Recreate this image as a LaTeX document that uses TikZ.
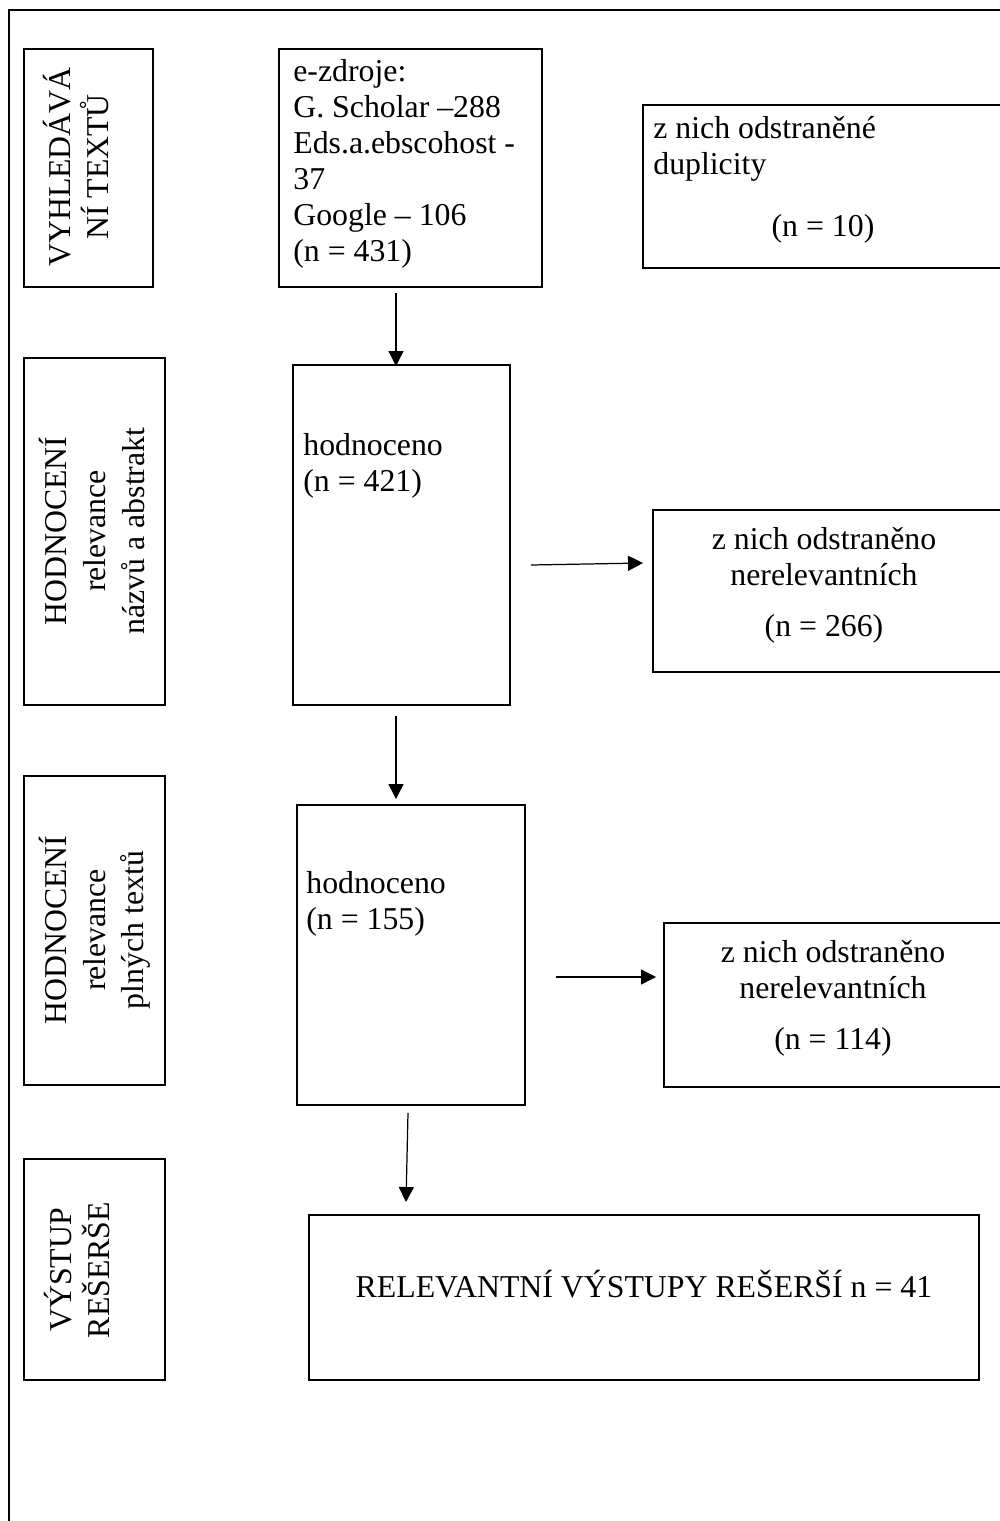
\documentclass[tikz,border=0pt]{standalone}
\usepackage{fontspec}
\setmainfont{Liberation Serif}
\usepackage{tikz}
\usetikzlibrary{arrows.meta,fit,calc}

\begin{document}
\begin{tikzpicture}[x=0.02cm, y=-0.02cm,
		every node/.style={font=\fontsize{18.1pt}{20.5pt}\selectfont, inner sep=0pt},
		box/.style={draw, line width=1.1pt},
		stagelabel/.style={rotate=90, align=center, font=\fontsize{18.1pt}{22pt}\selectfont},
		arr/.style={line width=0.7pt, -{Triangle[length=0.3cm, width=0.3cm]}},
	]
		\path[use as bounding box, clip] (0,0) rectangle (1000,1521);
		\draw[line width=1.1pt] (9,10) rectangle (1010,1530);

		% stages on the left
		\node[box, fit={(24,49) (153,287)}] (stage1) {};
		\node[box, fit={(24,358) (165,705)}] (stage2) {};
		\node[box, fit={(24,776) (165,1085)}] (stage3) {};
		\node[box, fit={(24,1159) (165,1380)}] (stage4) {};
		\node[stagelabel] (lbl1) at (76,167) {VYHLEDÁVÁ\\NÍ TEXTŮ};
		\node[stagelabel] (lbl2) at (92,531) {HODNOCENÍ\\relevance\\názvů a abstrakt};
		\node[stagelabel] (lbl3) at (95,930) {HODNOCENÍ\\relevance\\plných textů};
		\node[stagelabel] (lbl4) at (77,1270) {VÝSTUP\\REŠERŠE};

		% main flow
		\node[box, fit={(279,49) (542,287)}] (src) {};
		\node[align=left, anchor=north west] (srctxt) at (293,59)
			{e-zdroje:\\G. Scholar –288\\Eds.a.ebscohost -\\37\\Google – 106\\(n = 431)};
		\node[box, fit={(293,365) (510,705)}] (hod1) {};
		\node[align=left, anchor=north west] (hod1txt) at (303,433) {hodnoceno\\(n = 421)};
		\node[box, fit={(297,805) (525,1105)}] (hod2) {};
		\node[align=left, anchor=north west] (hod2txt) at (306,871) {hodnoceno\\(n = 155)};
		\node[box, fit={(309,1215) (979,1380)}] (final) {RELEVANTNÍ VÝSTUPY REŠERŠÍ n = 41};

		% removed records
		\node[box, fit={(643,105) (1005,268)}] (dupl) {};
		\node[align=left, anchor=north west] (dupltxt) at (653,116) {z nich odstraněné\\duplicity};
		\node (dupln) at (823,229) {(n = 10)};
		\node[box, fit={(653,510) (1005,672)}] (odst1) {};
		\node[align=center, anchor=north] (odst1txt) at (824,527)
			{z nich odstraněno\\nerelevantních\\[0.3cm](n = 266)};
		\node[box, fit={(664,923) (1005,1087)}] (odst2) {};
		\node[align=center, anchor=north] (odst2txt) at (833,940)
			{z nich odstraněno\\nerelevantních\\[0.3cm](n = 114)};

		\draw[arr] ($(src.south)+(-14.5,5)$) -- ($(hod1.north)+(-5.5,2)$);
		\draw[arr] ($(hod1.south)+(-5.5,10)$) -- ($(hod2.north)+(-15,-5)$);
		\draw[arr] ($(hod2.south)+(-3,7)$) -- ($(final.north)+(-238,-12)$);
		\draw[arr] ($(hod1.east)+(20,30)$) -- ($(odst1.west)+(-9,-28)$);
		\draw[arr] ($(hod2.east)+(30,22)$) -- ($(odst2.west)+(-7,-28)$);
	\end{tikzpicture}
\end{document}
